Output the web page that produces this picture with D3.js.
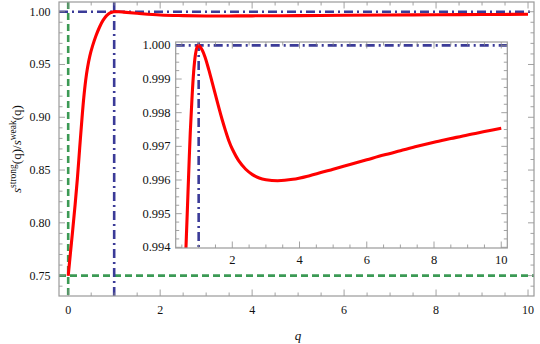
<!DOCTYPE html>
<html><head><meta charset="utf-8">
<script src="https://cdn.jsdelivr.net/npm/d3@7"></script>
<style>html,body{margin:0;padding:0;background:#fff;}svg{display:block;}</style>
</head><body>
<svg id="c" width="540" height="344"></svg>
<script>
// ---- data ----
const mainQ = [0, 0.05, 0.10, 0.15, 0.20, 0.25, 0.30, 0.34, 0.38, 0.42, 0.47, 0.53, 0.60, 0.68, 0.76, 0.84, 0.91, 0.99, 1.1, 1.2, 1.5, 2, 2.5, 3, 3.5, 4, 5, 6, 7, 8, 9, 10];
const mainS = [0.7497, 0.772, 0.794, 0.817, 0.842, 0.871, 0.899, 0.919, 0.935, 0.947, 0.958, 0.9676, 0.9767, 0.9853, 0.992, 0.9965, 0.9988, 1.0, 0.9999, 0.9996, 0.9985, 0.9969, 0.9963, 0.9960, 0.99599, 0.9961, 0.99632, 0.9966, 0.99687, 0.99712, 0.99734, 0.99754];

const insetQ = [0.60, 0.66, 0.70, 0.75, 0.80, 0.85, 0.90, 0.95, 1.00, 1.10, 1.20, 1.30, 1.40, 1.50, 1.60, 1.70, 1.80, 1.90, 2.00, 2.20, 2.40, 2.60, 2.80, 3.00, 3.35, 3.80, 4.30, 5.00, 5.50, 6.00, 6.50, 7.00, 7.50, 8.00, 8.50, 9.00, 9.50, 10.00];
const insetS = [0.9934, 0.9950, 0.9961, 0.9974, 0.9984, 0.99920, 0.99970, 0.99994, 1.0, 0.99987, 0.99962, 0.99928, 0.99891, 0.99853, 0.99815, 0.99779, 0.99746, 0.99716, 0.99692, 0.99656, 0.99632, 0.99616, 0.99606, 0.99601, 0.99598, 0.99602, 0.99613, 0.99632, 0.99646, 0.9966, 0.99674, 0.99687, 0.997, 0.99712, 0.99723, 0.99734, 0.99744, 0.99754];

const greenQ = [0];      // vertical dashed green
const greenS = [0.75];   // horizontal dashed green
const blueQ = [1];       // vertical dash-dot blue
const blueS = [1.00];    // horizontal dash-dot blue

const mainXTicks = [0, 2, 4, 6, 8, 10];
const mainXLabels = ["0", "2", "4", "6", "8", "10"];
const mainYTicks = [0.75, 0.80, 0.85, 0.90, 0.95, 1.00];
const mainYLabels = ["0.75", "0.80", "0.85", "0.90", "0.95", "1.00"];
const insetXTicks = [2, 4, 6, 8, 10];
const insetXLabels = ["2", "4", "6", "8", "10"];
const insetYTicks = [0.994, 0.995, 0.996, 0.997, 0.998, 0.999, 1.000];
const insetYLabels = ["0.994", "0.995", "0.996", "0.997", "0.998", "0.999", "1.000"];

// ---- drawing ----
const svg = d3.select("#c");
const RED = "#ff0000", GREEN = "#3c9a55", BLUE = "#3b3b98";
const FRAME = "#9a9a9a", TICK = "#8a8a8a";
const SERIF = '"Times New Roman"';

function panel(opts) {
  const {x0, x1, y0, y1, xDom, yDom, xMinorStep, yMinorStep, xTicks, xLabels, yTicks, yLabels,
         fs, xLabY, yLabX, id, qs, ss, bg} = opts;
  const x = d3.scaleLinear().domain(xDom).range([x0, x1]);
  const y = d3.scaleLinear().domain(yDom).range([y1, y0]);
  const g = svg.append("g");
  if (bg) g.append("rect").attr("x", x0).attr("y", y0).attr("width", x1 - x0).attr("height", y1 - y0).attr("fill", "#fff");
  g.append("clipPath").attr("id", id).append("rect")
    .attr("x", x0).attr("y", y0).attr("width", x1 - x0).attr("height", y1 - y0);
  const plot = g.append("g").attr("clip-path", `url(#${id})`);

  // ticks
  const tg = g.append("g").attr("stroke", TICK).attr("stroke-width", 0.8);
  const xMin = d3.range(Math.ceil(xDom[0] / xMinorStep) * xMinorStep, xDom[1] + 1e-9, xMinorStep);
  const yMin = d3.range(Math.ceil(yDom[0] / yMinorStep - 1e-6) * yMinorStep, yDom[1] + 1e-12, yMinorStep);
  const isMajor = (v, arr) => arr.some(t => Math.abs(t - v) < 1e-9);
  xMin.forEach(v => {
    const L = isMajor(v, xTicks) ? 6.5 : 3.5;
    const px = x(v);
    tg.append("line").attr("x1", px).attr("x2", px).attr("y1", y1).attr("y2", y1 - L);
    tg.append("line").attr("x1", px).attr("x2", px).attr("y1", y0).attr("y2", y0 + L);
  });
  yMin.forEach(v => {
    const L = isMajor(v, yTicks) ? 6 : 3.5;
    const py = y(v);
    tg.append("line").attr("y1", py).attr("y2", py).attr("x1", x0).attr("x2", x0 + L);
    tg.append("line").attr("y1", py).attr("y2", py).attr("x1", x1).attr("x2", x1 - L);
  });

  // reference lines
  greenQ.forEach(q => plot.append("line").attr("x1", x(q)).attr("x2", x(q)).attr("y1", y0).attr("y2", y1)
    .attr("stroke", GREEN).attr("stroke-width", 2.6).attr("stroke-dasharray", "7,4"));
  greenS.forEach(s => plot.append("line").attr("y1", y(s)).attr("y2", y(s)).attr("x1", x0).attr("x2", x1)
    .attr("stroke", GREEN).attr("stroke-width", 2.6).attr("stroke-dasharray", "7,4"));
  blueQ.forEach(q => plot.append("line").attr("x1", x(q)).attr("x2", x(q)).attr("y1", y0).attr("y2", y1)
    .attr("stroke", BLUE).attr("stroke-width", 2.6).attr("stroke-dasharray", "9,4,2,4"));
  blueS.forEach(s => plot.append("line").attr("y1", y(s)).attr("y2", y(s)).attr("x1", x0).attr("x2", x1)
    .attr("stroke", BLUE).attr("stroke-width", 2.6).attr("stroke-dasharray", "9,4,2,4"));

  // curve
  const pts = qs.map((q, i) => [q, ss[i]]);
  plot.append("path").datum(pts)
    .attr("d", d3.line().x(d => x(d[0])).y(d => y(d[1])).curve(d3.curveCatmullRom.alpha(0.5)))
    .attr("fill", "none").attr("stroke", RED).attr("stroke-width", 3.1)
    .attr("stroke-linejoin", "round").attr("stroke-linecap", "butt");

  // frame
  g.append("rect").attr("x", x0).attr("y", y0).attr("width", x1 - x0).attr("height", y1 - y0)
    .attr("fill", "none").attr("stroke", FRAME).attr("stroke-width", 1.2);

  // labels
  const lg = g.append("g").style("font-family", SERIF).attr("font-size", fs).attr("fill", "#111");
  xTicks.forEach((t, i) => lg.append("text").attr("x", x(t)).attr("y", xLabY)
    .attr("text-anchor", "middle").text(xLabels[i]));
  yTicks.forEach((t, i) => lg.append("text").attr("x", yLabX).attr("y", y(t))
    .attr("text-anchor", "end").attr("dominant-baseline", "central").text(yLabels[i]));
  return {x, y};
}

// main panel
panel({x0: 59, x1: 534, y0: 2, y1: 296, xDom: [-0.2, 10.13], yDom: [0.7307, 1.0092],
  xMinorStep: 0.5, yMinorStep: 0.01, xTicks: mainXTicks, xLabels: mainXLabels,
  yTicks: mainYTicks, yLabels: mainYLabels, fs: 12, xLabY: 313.5, yLabX: 50.5,
  id: "clipMain", qs: mainQ, ss: mainS, bg: false});

// inset panel
panel({x0: 175.7, x1: 507.3, y0: 42, y1: 248, xDom: [0.317, 10.18], yDom: [0.99398, 1.0001],
  xMinorStep: 0.5, yMinorStep: 0.00025, xTicks: insetXTicks, xLabels: insetXLabels,
  yTicks: insetYTicks, yLabels: insetYLabels, fs: 12.5, xLabY: 263.5, yLabX: 170.5,
  id: "clipInset", qs: insetQ, ss: insetS, bg: true});

// axis titles
svg.append("text").style("font-family", SERIF).attr("x", 298).attr("y", 340).attr("text-anchor", "middle")
  .attr("font-size", 13).attr("font-style", "italic").attr("fill", "#111").text("q");

const yl = svg.append("text").style("font-family", SERIF).attr("transform", "translate(21,149) rotate(-90)")
  .attr("text-anchor", "middle").attr("font-size", 13).attr("fill", "#111");
yl.append("tspan").attr("font-style", "italic").text("s");
yl.append("tspan").attr("font-size", 9.5).attr("dy", -5).text("strong");
yl.append("tspan").attr("dy", 5).text("(q)/");
yl.append("tspan").attr("font-style", "italic").text("s");
yl.append("tspan").attr("font-size", 9.5).attr("dy", -5).text("weak");
yl.append("tspan").attr("dy", 5).text("(q)");
</script>
</body></html>
